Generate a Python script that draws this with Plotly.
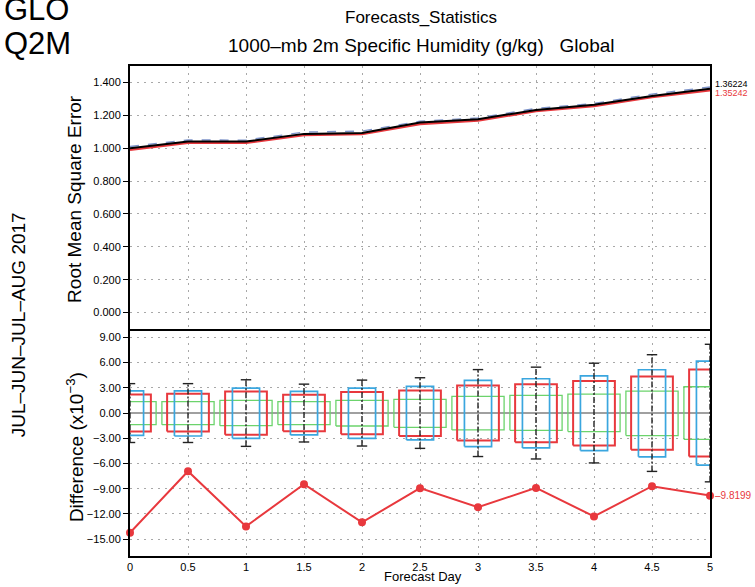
import plotly.graph_objects as go

# Forecast lead times (days)
days = [0, 0.5, 1, 1.5, 2, 2.5, 3, 3.5, 4, 4.5, 5]
day_labels = ["0", "0.5", "1", "1.5", "2", "2.5", "3", "3.5", "4", "4.5", "5"]

# RMSE of 2m specific humidity (g/kg) for each experiment
rmse_black = [1.000, 1.041, 1.040, 1.087, 1.093, 1.156, 1.176, 1.233, 1.264, 1.318, 1.36224]
rmse_red = [0.990, 1.034, 1.033, 1.080, 1.086, 1.148, 1.169, 1.226, 1.257, 1.311, 1.35242]
rmse_blue = [1.010, 1.050, 1.049, 1.098, 1.104, 1.164, 1.184, 1.242, 1.272, 1.329, 1.372]

# Difference from reference experiment (x1e-3)
diff_red = [-14.23, -6.92, -13.48, -8.46, -13.00, -8.93, -11.19, -8.90, -12.29, -8.70, -9.8199]

# Significance intervals around zero (x1e-3)
red_hi = [2.20, 2.30, 2.57, 2.18, 2.50, 2.68, 3.28, 3.44, 3.80, 4.35, 5.18]
red_lo = [-2.20, -2.20, -2.57, -2.17, -2.53, -2.73, -3.27, -3.48, -3.87, -4.35, -5.17]
blue_hi = [2.65, 2.65, 2.97, 2.57, 2.97, 3.17, 3.88, 4.08, 4.43, 5.15, 6.17]
blue_lo = [-2.65, -2.73, -3.00, -2.60, -3.00, -3.20, -3.99, -4.15, -4.46, -5.20, -6.20]
green_hi = [1.35, 1.35, 1.50, 1.35, 1.50, 1.63, 1.98, 2.10, 2.25, 2.61, 3.13]
green_lo = [-1.38, -1.38, -1.50, -1.38, -1.54, -1.70, -2.00, -2.05, -2.20, -2.68, -3.12]
whisker = [3.50, 3.50, 3.96, 3.44, 3.92, 4.20, 5.17, 5.46, 5.93, 6.94, 8.18]

RED = "#e8383d"
BLUE = "#3aa6df"
GREEN = "#6cd36c"
FONT = "Liberation Sans, Arial, sans-serif"


def rect_path(centers, half, lo, hi):
    xs, ys = [], []
    for c, a, b in zip(centers, lo, hi):
        xs += [c - half, c + half, c + half, c - half, c - half, None]
        ys += [a, a, b, b, a, None]
    return xs, ys


def whisker_path(centers, half, w):
    xs, ys = [], []
    for c, v in zip(centers, w):
        xs += [c, c, None]
        ys += [-v, v, None]
    cx, cy = [], []
    for c, v in zip(centers, w):
        cx += [c - half, c + half, None, c - half, c + half, None]
        cy += [v, v, None, -v, -v, None]
    return xs, ys, cx, cy


fig = go.Figure()

# Top panel: RMSE curves
fig.add_trace(go.Scatter(x=days, y=rmse_red, mode="lines", xaxis="x2", yaxis="y",
                         line=dict(color=RED, width=2.6)))
fig.add_trace(go.Scatter(x=days, y=rmse_blue, mode="lines", xaxis="x2", yaxis="y",
                         line=dict(color="#7d93c9", width=1.4, dash="dash")))
fig.add_trace(go.Scatter(x=days, y=rmse_black, mode="lines", xaxis="x2", yaxis="y",
                         line=dict(color="black", width=2)))

# Bottom panel: significance boxes
gx, gy = rect_path(days, 0.225, green_lo, green_hi)
fig.add_trace(go.Scatter(x=gx, y=gy, mode="lines", xaxis="x", yaxis="y2",
                         line=dict(color=GREEN, width=1.3)))
rx, ry = rect_path(days, 0.18, red_lo, red_hi)
fig.add_trace(go.Scatter(x=rx, y=ry, mode="lines", xaxis="x", yaxis="y2",
                         line=dict(color=RED, width=2)))
bx, by = rect_path(days, 0.117, blue_lo, blue_hi)
fig.add_trace(go.Scatter(x=bx, y=by, mode="lines", xaxis="x", yaxis="y2",
                         line=dict(color=BLUE, width=1.7)))
wx, wy, cx, cy = whisker_path(days, 0.045, whisker)
fig.add_trace(go.Scatter(x=wx, y=wy, mode="lines", xaxis="x", yaxis="y2",
                         line=dict(color="#222", width=1.4, dash="6px,2px,2px,2px")))
fig.add_trace(go.Scatter(x=cx, y=cy, mode="lines", xaxis="x", yaxis="y2",
                         line=dict(color="#222", width=1.4)))

# Bottom panel: difference curve
fig.add_trace(go.Scatter(x=days, y=diff_red, mode="lines+markers", xaxis="x", yaxis="y2",
                         line=dict(color=RED, width=2),
                         marker=dict(color=RED, size=8), cliponaxis=False))

grid = dict(showgrid=True, gridcolor="#a8a8a8", griddash="2px,5px", gridwidth=1)
tickfont = dict(family=FONT, size=11, color="black")

fig.update_layout(
    width=755, height=587,
    margin=dict(l=130, r=45, t=66, b=31),
    paper_bgcolor="white", plot_bgcolor="white",
    showlegend=False,
    font=dict(family=FONT, color="black"),
    xaxis=dict(domain=[0, 1], anchor="y2", range=[0, 5], tickvals=days, ticktext=day_labels,
               tickfont=dict(family=FONT, size=11, color="black"), ticks="", zeroline=False,
               showline=True, mirror=False, linecolor="black", linewidth=2, **grid),
    xaxis2=dict(domain=[0, 1], anchor="y", matches="x", range=[0, 5], tickvals=days,
                showticklabels=False, ticks="", zeroline=False,
                showline=True, mirror=True, linecolor="black", linewidth=2, **grid),
    yaxis=dict(domain=[0.4633, 1], anchor="x2", range=[-0.1, 1.5],
               tickvals=[0, 0.2, 0.4, 0.6, 0.8, 1.0, 1.2, 1.4], tickformat=".3f",
               ticks="outside", ticklen=5, tickcolor="black", tickfont=tickfont,
               zeroline=False, showline=True, mirror=True, linecolor="black", linewidth=2,
               **grid),
    yaxis2=dict(domain=[0, 0.4633], anchor="x", range=[-17, 10],
                tickvals=[-15, -12, -9, -6, -3, 0, 3, 6, 9], tickformat=".2f",
                ticks="outside", ticklen=5, tickcolor="black", tickfont=tickfont,
                zeroline=True, zerolinecolor="#a0a0a0", zerolinewidth=1.6,
                showline=True, mirror=True, linecolor="black", linewidth=2, **grid),
)


def label(text, x, y, size, angle=0, xanchor="center", yanchor="middle", color="black"):
    return dict(text=text, xref="paper", yref="paper", x=x, y=y, textangle=angle,
                xanchor=xanchor, yanchor=yanchor, showarrow=False,
                font=dict(size=size, color=color))


ann = [
    label("GLO", -0.221, 1.115, 31, xanchor="left"),
    label("Q2M", -0.221, 1.045, 31, xanchor="left"),
    label("Forecasts_Statistics", 0.502, 1.098, 17),
    label("1000\u2013mb 2m Specific Humidity (g/kg)\u00a0\u00a0\u00a0Global", 0.502, 1.041, 19),
    label("Root Mean Square Error", -0.095, 0.7286, 19, angle=-90),
    label("Difference (x10<sup>\u22123</sup>)", -0.095, 0.222, 19, angle=-90),
    label("JUL\u2013JUN\u2013JUL\u2013AUG 2017", -0.193, 0.471, 19, angle=-90),
    label("Forecast Day", 0.505, -0.0615, 13, yanchor="bottom"),
]
# End-point values
ann.append(dict(text=f"{rmse_black[-1]:.5f}", x=days[-1], y=rmse_black[-1], xref="x2", yref="y",
                xanchor="left", yanchor="middle", xshift=3, yshift=5, showarrow=False,
                font=dict(size=9, color="black")))
ann.append(dict(text=f"{rmse_red[-1]:.5f}", x=days[-1], y=rmse_red[-1], xref="x2", yref="y",
                xanchor="left", yanchor="middle", xshift=3, yshift=-3, showarrow=False,
                font=dict(size=9, color=RED)))
ann.append(dict(text=f"\u2013{abs(diff_red[-1]):.4f}", x=days[-1], y=diff_red[-1], xref="x",
                yref="y2", xanchor="left", yanchor="middle", xshift=3, showarrow=False,
                font=dict(size=10, color=RED)))
fig.update_layout(annotations=ann)

fig.write_html("out.html")
